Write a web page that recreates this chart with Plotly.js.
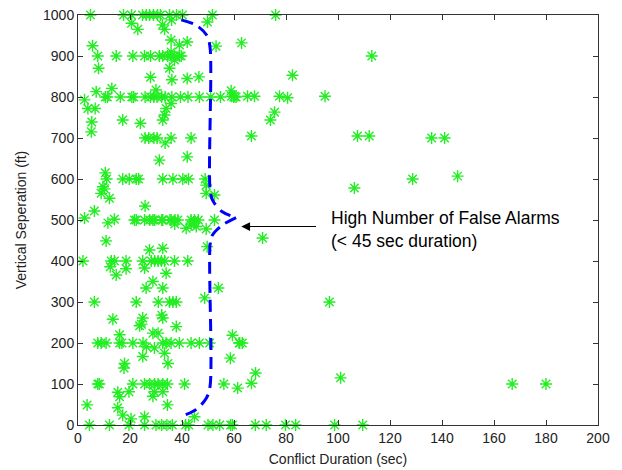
<!DOCTYPE html>
<html>
<head>
<meta charset="utf-8">
<script src="https://cdn.plot.ly/plotly-3.0.1.min.js"></script>
<style>html,body{margin:0;padding:0;background:#fff;}#chart{width:622px;height:470px;}</style>
</head>
<body>
<div id="chart"></div>
<script>
// Conflict duration (sec) and vertical separation (ft) of each recorded conflict
const conflictDuration = [
  4.8,17.5,20.6,24.8,26.3,27.5,29.0,30.6,31.7,35.2,37.9,40.2,51.7,76,
  20.6,23,32.5,33.3,36,49.8,
  62.9,113,82.5,
  59,60.2,65.2,67.9,77.5,80.6,95,
  75.6,74,
  66.7,107.5,112,136,141,
  128.7,106.3,146,
  71,
  96.7,101,167,180,
  59.4,62,63.2,58.6,68.3,66.7,61.4,
  58.7,59.4,68.2,72.4,79.8,83.7,98.7,109.5,
  5.6,35.8,39,42,53.1,
  7.6,14.7,21.1,25.6,27.9,31.3,32.6,34.5,35.8,37.1,39,39.7,35.8,37.1,
  7.9,35.2,
  27.9,36.1,42,46.5,
  7,13,30,58.9,
  2.5,10.5,11.3,16.3,20.7,21.4,25.8,27.9,29.2,30.4,32.2,33.5,36.1,39.4,42.3,46.7,51,54.8,59.9,60.8,
  3.8,6.6,33.9,35.8,
  5.3,17.2,24,32.6,33.3,
  5.1,
  25.8,27.2,29.2,30.4,35.8,43.5,33.5,
  31.3,42,
  10.5,
  11,17.2,19.7,22.4,23.3,32.6,36.5,40.3,42.5,48.9,
  49.3,9.6,8.9,12.1,10.2,49.3,52.5,
  25.8,6.3,
  2.5,14,21.7,22.4,25.6,27.6,28.8,29.5,32.2,32.6,35.4,35.8,37.3,38.4,43.5,44.8,46.3,52.5,
  11.5,41.6,43.5,49.3,37.2,44.5,45.5,
  10.8,49.7,
  27.5,32.6,
  1.9,12.8,14,18.5,24.9,28.2,29.5,30.8,32.1,33.3,37.1,42.2,
  12.4,18.5,25.6,33.9,14.7,28.8,32.6,26.2,54,
  6.3,22.4,30.9,35.2,36.5,37.8,48.7,
  13.4,24.9,24.4,23.7,32.6,32.2,37.8,
  28.8,30.8,16,
  7.6,8.9,10.8,16,16.9,21.1,25,32.6,33.9,35.8,39,43.5,46.7,50.6,62.2,26.3,29.4,
  24.9,33.3,
  17.9,17.7,34.6,
  7.6,8.2,21.1,25.6,27.6,29.5,30.8,32.6,34.4,41,56.1,
  15.3,16,29.4,28.8,32.6,19.6,
  3.5,15.3,34.4,
  17.2,25.6,20.4,44.8,
  4.4,12.1,19.6,25.6,30.0,32.2,34.2,36.3,41.4,42.6,50,51.9,54.5
];
const verticalSeparation = [
  1000,1000,1000,1000,1000,1000,1000,1000,1000,1000,1000,1000,1000,1000,
  980,965,976,965,988,983,
  932,900,853,
  802,802,802,802,802,798,802,
  763,744,
  705,705,705,700,700,
  600,578,607,
  456,
  300,115,100,100,
  219,200,200,163,127,102,90,
  0,0,0,0,0,0,0,0,
  925,939,927,934,924,
  900,900,900,900,900,900,900,900,900,900,900,900,910,890,
  870,870,
  848,842,845,849,
  813,821,817,815,
  793,800,800,800,800,800,800,800,800,800,800,800,800,800,800,800,800,800,800,800,
  772,772,772,784,
  739,744,736,744,756,
  715,
  700,700,700,700,700,700,688,
  646,654,
  615,
  600,600,600,600,600,600,600,600,600,600,
  585,581,565,553,576,565,561,
  534,522,
  505,502,500,500,500,500,500,500,500,500,500,500,500,500,500,500,500,500,
  493,480,488,478,490,495,484,
  449,435,
  427,431,
  400,400,400,400,400,400,400,400,400,400,400,400,
  386,381,383,370,366,350,334,334,334,
  300,300,300,300,300,300,310,
  258,261,246,242,261,268,240,
  224,224,220,
  200,200,200,200,200,200,200,200,200,200,200,200,200,200,200,191,188,
  167,175,
  150,139,150,
  100,100,100,100,100,100,100,100,100,100,100,
  80,69,81,70,81,81,
  49,42,49,
  24,20,15,20,
  0,0,0,0,0,0,0,0,0,0,0,0,0
];
// Dashed brace marking the short-duration cluster (upper and lower halves)
const braceUpperX = [39.7,45.5,49.6,50.8,50.8,51.8,55.5,60.8];
const braceUpperY = [988,975,950,920,575,548,520,506];
const braceLowerX = [60.8,55.2,51.6,50.8,50.8,49.4,45.5,41];
const braceLowerY = [506,486,462,440,95,66,38,24];
// Annotation
const noteText = ["High Number of False Alarms", "(&lt; 45 sec duration)"];
const arrowTip = [62.8, 484];
const arrowTail = [92.1, 484];
const noteAnchor = [96.7, 478];

const xTicks = [0,20,40,60,80,100,120,140,160,180,200];
const yTicks = [0,100,200,300,400,500,600,700,800,900,1000];

const braceLine = {color:'#0000ff', width:3, dash:'12px,7px', shape:'spline', smoothing:0.9};
const traces = [
  {x:conflictDuration, y:verticalSeparation, type:'scatter', mode:'markers', cliponaxis:false,
   marker:{symbol:'asterisk-open', size:10, color:'#22ee22', line:{color:'#22ee22', width:1.4}}, hoverinfo:'x+y'},
  {x:braceUpperX, y:braceUpperY, type:'scatter', mode:'lines', line:braceLine, hoverinfo:'skip'},
  {x:braceLowerX, y:braceLowerY, type:'scatter', mode:'lines', line:braceLine, hoverinfo:'skip'}
];
const axisCommon = {
  showgrid:false, zeroline:false, showline:true, linecolor:'#333', linewidth:1,
  mirror:'ticks', ticks:'inside', ticklen:5, tickcolor:'#333',
  tickfont:{family:'Liberation Sans, Arial, sans-serif', size:14, color:'#222'}
};
const layout = {
  width:622, height:470,
  margin:{l:78, r:24, t:15, b:45},
  paper_bgcolor:'#fff', plot_bgcolor:'#fff',
  showlegend:false,
  font:{family:'Liberation Sans, Arial, sans-serif', color:'#222'},
  xaxis:Object.assign({}, axisCommon, {range:[0,200], tickvals:xTicks, ticktext:xTicks.map(String),
    title:{text:'Conflict Duration (sec)', font:{size:14, color:'#222'}, standoff:9}}),
  yaxis:Object.assign({}, axisCommon, {range:[0,1000], tickvals:yTicks, ticktext:yTicks.map(String),
    title:{text:'Vertical Seperation (ft)', font:{size:14, color:'#222'}, standoff:13}}),
  annotations:[
    {x:arrowTip[0], y:arrowTip[1], ax:arrowTail[0], ay:arrowTail[1], axref:'x', ayref:'y',
     xref:'x', yref:'y', text:'', showarrow:true, arrowhead:2, arrowsize:1.6, arrowwidth:1.1, arrowcolor:'#000'},
    {x:noteAnchor[0], y:noteAnchor[1], xref:'x', yref:'y', xanchor:'left', yanchor:'middle', align:'left',
     showarrow:false, text:noteText.join('<br>'), font:{family:'Liberation Sans, Arial, sans-serif', size:17.5, color:'#000'}}
  ]
};
Plotly.newPlot('chart', traces, layout, {displayModeBar:false, staticPlot:true});
</script>
</body>
</html>
